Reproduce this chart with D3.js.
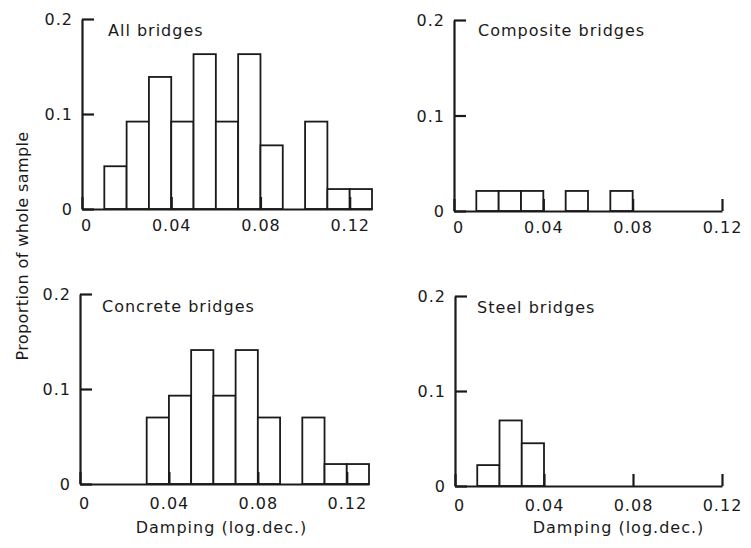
<!DOCTYPE html>
<html>
<head>
<meta charset="utf-8">
<script src="https://cdn.jsdelivr.net/npm/d3@7"></script>
<style>
  body { margin: 0; background: #fff; }
  svg text { font-family: "DejaVu Sans", sans-serif; font-size: 16px; letter-spacing: 1px; fill: #1a1a1a; }
</style>
</head>
<body>
<script>
// bins of 0.01 log.dec. starting at these values
var binStarts = [0.01, 0.02, 0.03, 0.04, 0.05, 0.06, 0.07, 0.08, 0.09, 0.10, 0.11, 0.12];
var binWidth = 0.01;

var allBridges       = [0.045, 0.092, 0.139, 0.092, 0.163, 0.092, 0.163, 0.067, 0, 0.092, 0.021, 0.021];
var compositeBridges = [0.021, 0.021, 0.021, 0, 0.021, 0, 0.021, 0, 0, 0, 0, 0];
var concreteBridges  = [0, 0, 0.070, 0.093, 0.141, 0.093, 0.141, 0.070, 0, 0.070, 0.021, 0.021];
var steelBridges     = [0.022, 0.069, 0.045, 0, 0, 0, 0, 0, 0, 0, 0, 0];

var yTicks = [0, 0.1, 0.2];
var xTicks = [0, 0.04, 0.08, 0.12];

var ink = "#1a1a1a";

var svg = d3.select("body").append("svg")
  .attr("width", 751)
  .attr("height", 548);

// one panel per bridge type
var panels = [
  {title: "All bridges",       values: allBridges,       xMax: 0.13, x0: 82,  x1: 372, y0: 209, y1: 19,  titleX: 108, titleY: 36, xlabel: false},
  {title: "Composite bridges", values: compositeBridges, xMax: 0.12, x0: 454, x1: 722, y0: 211, y1: 20,  titleX: 478, titleY: 36, xlabel: false},
  {title: "Concrete bridges",  values: concreteBridges,  xMax: 0.13, x0: 80,  x1: 369, y0: 484, y1: 294, titleX: 102, titleY: 312, xlabel: true},
  {title: "Steel bridges",     values: steelBridges,     xMax: 0.12, x0: 455, x1: 722, y0: 486, y1: 296, titleX: 477, titleY: 313, xlabel: true}
];

panels.forEach(function (p) {
  var x = d3.scaleLinear().domain([0, p.xMax]).range([p.x0, p.x1]);
  var y = d3.scaleLinear().domain([0, 0.2]).range([p.y0, p.y1]);
  var g = svg.append("g");

  var bars = binStarts.map(function (b, i) { return {start: b, value: p.values[i]}; })
    .filter(function (d) { return d.value > 0; });

  g.selectAll("rect")
    .data(bars)
    .enter().append("rect")
    .attr("x", function (d) { return x(d.start); })
    .attr("y", function (d) { return y(d.value); })
    .attr("width", function (d) { return x(d.start + binWidth) - x(d.start); })
    .attr("height", function (d) { return y(0) - y(d.value); })
    .attr("fill", "#fff")
    .attr("stroke", ink)
    .attr("stroke-width", 1.8);

  var yAxis = g.append("g")
    .attr("transform", "translate(" + p.x0 + ",0)")
    .call(d3.axisLeft(y).tickValues(yTicks).tickSizeInner(-12).tickSizeOuter(0).tickPadding(9)
      .tickFormat(function (d) { return d === 0 ? "0" : d3.format(".1f")(d); }));

  var xAxis = g.append("g")
    .attr("transform", "translate(0," + p.y0 + ")")
    .call(d3.axisBottom(x).tickValues(xTicks).tickSizeInner(-12).tickSizeOuter(0).tickPadding(p.xlabel ? 14 : 11)
      .tickFormat(function (d) { return d === 0 ? "0" : d3.format(".2f")(d); }));

  [yAxis, xAxis].forEach(function (a) {
    a.attr("font-family", null).attr("font-size", null);
    a.select(".domain").attr("stroke", ink).attr("stroke-width", 2.2);
    a.selectAll(".tick line").attr("stroke", ink).attr("stroke-width", 2.2);
    a.selectAll(".tick text").attr("fill", ink);
  });
  yAxis.selectAll(".tick text").attr("dy", "0.35em");
  // the "0" under the origin sits a little to the right in the original
  xAxis.selectAll(".tick text").filter(function (d) { return d === 0; }).attr("x", 4);

  g.append("text")
    .attr("x", p.titleX)
    .attr("y", p.titleY)
    .text(p.title);

  if (p.xlabel) {
    g.append("text")
      .attr("x", (p.x0 + p.x1) / 2 + (p.xMax > 0.125 ? -3 : 30))
      .attr("y", 533)
      .attr("text-anchor", "middle")
      .text("Damping (log.dec.)");
  }
});

svg.append("text")
  .attr("transform", "translate(28,246) rotate(-90)")
  .attr("text-anchor", "middle")
  .style("letter-spacing", "0.4px")
  .text("Proportion of whole sample");
</script>
</body>
</html>
